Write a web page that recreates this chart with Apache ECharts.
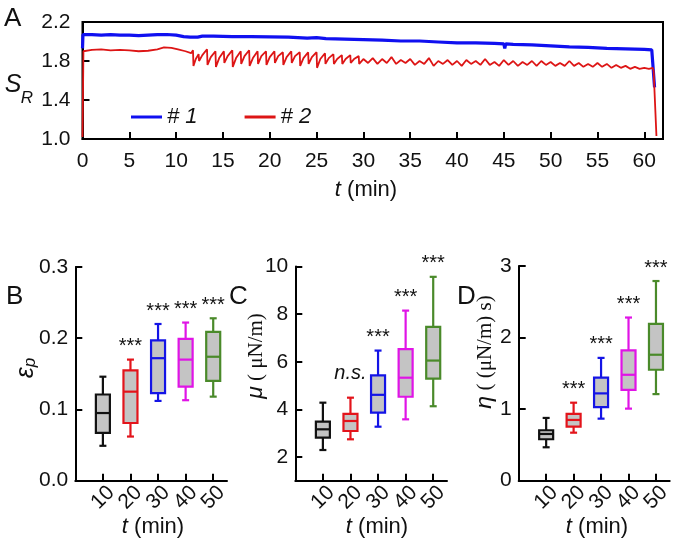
<!DOCTYPE html>
<html><head><meta charset="utf-8">
<script src="https://cdn.jsdelivr.net/npm/echarts@6/dist/echarts.min.js"></script>
<style>html,body{margin:0;padding:0;background:#fff}#c{width:677px;height:542px}</style>
</head><body><div id="c"></div>
<script>
// ---------- Panel A data (S_R vs t) ----------
const blueT = [0,0.05,1,2,3,4,5,6,7,8,9,10,10.8,11.5,12.3,12.8,14,16,18,20,22,24,25,26,28,30,32,34,36,38,40,42,44,45,45.1,45.2,46,48,50,52,54,56,58,60,60.8,61.0,61.1];
const blueV = [1.93,2.07,2.07,2.065,2.07,2.065,2.065,2.06,2.065,2.07,2.072,2.065,2.05,2.045,2.045,2.055,2.055,2.05,2.05,2.048,2.045,2.035,2.04,2.03,2.025,2.02,2.015,2.005,2.005,1.995,1.985,1.985,1.98,1.975,1.93,1.975,1.97,1.965,1.955,1.945,1.94,1.93,1.925,1.92,1.915,1.90,1.53];
const redT = [0,0.1,1,2,3,4,5,6,7,8,8.7,9.5,10.2,11,11.6,11.8,11.85,12.1,12.4,12.45,12.8,13.3,13.35,13.7,14.2,14.25,14.6,15.1,15.15,15.5,16.0,16.05,16.4,16.9,16.95,17.3,17.8,17.85,18.2,18.7,18.75,19.1,19.6,19.65,20.0,20.5,20.55,20.9,21.4,21.45,21.8,22.3,22.35,22.7,23.2,23.25,23.6,24.1,24.15,24.5,25.0,25.05,25.4,25.9,25.95,26.3,26.8,26.85,27.2,27.7,27.75,28.1,28.6,28.65,29.0,29.5,29.55,30,30.5,31,31.5,32,32.5,33,33.5,34,34.5,35,35.5,36,36.5,37,37.5,38,38.5,39,39.5,40,40.5,41,41.5,42,42.5,43,43.5,44,44.5,45,45.5,46,46.5,47,47.5,48,48.5,49,49.5,50,50.5,51,51.5,52,52.5,53,53.5,54,54.5,55,55.5,56,56.5,57,57.5,58,58.5,59,59.5,60,60.5,60.9,61.0,61.3];
const redV = [1.02,1.90,1.915,1.92,1.91,1.915,1.91,1.90,1.905,1.92,1.94,1.935,1.92,1.90,1.88,1.91,1.75,1.82,1.87,1.80,1.86,1.92,1.76,1.84,1.90,1.74,1.83,1.90,1.78,1.85,1.91,1.74,1.83,1.90,1.77,1.85,1.91,1.75,1.83,1.90,1.77,1.85,1.90,1.76,1.84,1.90,1.78,1.85,1.89,1.76,1.84,1.90,1.78,1.85,1.89,1.75,1.83,1.89,1.77,1.84,1.89,1.73,1.82,1.88,1.77,1.83,1.87,1.77,1.82,1.86,1.77,1.82,1.86,1.78,1.82,1.85,1.77,1.82,1.78,1.83,1.77,1.82,1.78,1.84,1.77,1.81,1.78,1.82,1.76,1.80,1.77,1.83,1.75,1.80,1.77,1.81,1.76,1.80,1.75,1.81,1.77,1.80,1.76,1.82,1.76,1.79,1.75,1.81,1.76,1.80,1.75,1.79,1.76,1.80,1.75,1.80,1.76,1.79,1.75,1.78,1.75,1.80,1.75,1.78,1.74,1.77,1.74,1.78,1.74,1.77,1.73,1.76,1.73,1.75,1.72,1.74,1.72,1.73,1.72,1.73,1.70,1.03];
const xTicksA = [0,5,10,15,20,25,30,35,40,45,50,55,60];
const yTicksA = [1.0,1.4,1.8,2.2];

// ---------- Panels B, C, D (box plots: min, Q1, median, Q3, max) ----------
const groups = [10,20,30,40,50];
const epsBox = [[0.049,0.067,0.095,0.121,0.146],[0.062,0.081,0.125,0.155,0.170],[0.112,0.123,0.172,0.197,0.220],[0.113,0.132,0.170,0.199,0.222],[0.118,0.140,0.174,0.209,0.228]];
const muBox  = [[2.29,2.81,3.16,3.48,4.28],[2.74,3.09,3.51,3.81,4.49],[3.27,3.86,4.61,5.43,6.47],[3.58,4.53,5.33,6.53,8.15],[4.13,5.29,6.05,7.47,9.57]];
const etaBox = [[0.467,0.579,0.653,0.705,0.877],[0.671,0.755,0.849,0.933,1.09],[0.867,1.027,1.22,1.44,1.716],[1.007,1.27,1.48,1.82,2.28],[1.21,1.55,1.76,2.19,2.79]];
const epsSig = ['','***','***','***','***'];
const muSig  = ['','n.s.','***','***','***'];
const etaSig = ['','***','***','***','***'];
const yTicksB = [0,0.1,0.2,0.3];
const yTicksC = [2,4,6,8,10];
const yTicksD = [0,1,2,3];

// ---------- styles ----------
const FF = 'Liberation Sans, Arial, sans-serif';
const boxColors = ['#111111','#e3141b','#1414e6','#e014e6','#4a8a2a'];
const BLUE = '#1010f0', RED = '#dd1515';

function pairs(t, v){ return t.map((x,i)=>[x, v[i]]); }

function boxRender(sig){
  return function(params, api){
    const i = params.dataIndex;
    const x = api.value(0);
    const pMin = api.coord([x, api.value(1)]);
    const pQ1 = api.coord([x, api.value(2)]);
    const pMed = api.coord([x, api.value(3)]);
    const pQ3 = api.coord([x, api.value(4)]);
    const pMax = api.coord([x, api.value(5)]);
    const hw = 7, cw = 3.5, lw = 2.2, c = boxColors[i];
    const st = {stroke: c, lineWidth: lw};
    const ch = [
      {type:'line', shape:{x1:pMax[0],y1:pMax[1],x2:pQ3[0],y2:pQ3[1]}, style:st},
      {type:'line', shape:{x1:pQ1[0],y1:pQ1[1],x2:pMin[0],y2:pMin[1]}, style:st},
      {type:'line', shape:{x1:pMax[0]-cw,y1:pMax[1],x2:pMax[0]+cw,y2:pMax[1]}, style:st},
      {type:'line', shape:{x1:pMin[0]-cw,y1:pMin[1],x2:pMin[0]+cw,y2:pMin[1]}, style:st},
      {type:'rect', shape:{x:pQ3[0]-hw,y:pQ3[1],width:2*hw,height:pQ1[1]-pQ3[1]}, style:{fill:'#c4c4c4',stroke:c,lineWidth:lw}},
      {type:'line', shape:{x1:pMed[0]-hw,y1:pMed[1],x2:pMed[0]+hw,y2:pMed[1]}, style:st}
    ];
    const s = sig[i];
    if (s) {
      const ns = s === 'n.s.';
      ch.push({type:'text', x:pMax[0], y:pMax[1] - (ns ? 14 : 3),
        style:{text:s, fill:'#111', align:'center', verticalAlign:'bottom', textAlign:'center', textVerticalAlign:'bottom',
          font: ns ? 'italic 20px ' + FF : '20px ' + FF}});
    }
    return {type:'group', children: ch};
  };
}

const axLine = {show:true, onZero:false, lineStyle:{color:'#000', width:2}};
const tickIn = {show:true, inside:true, length:7, lineStyle:{color:'#000', width:2}};
const lab = {color:'#111', fontSize:21, fontFamily:FF, hideOverlap:false, showMinLabel:true, showMaxLabel:true};

// Two overlapping bottom axes per panel so that the closely packed rotated labels are not auto-hidden
function bottomX(gi, vals, withLine){
  return {type:'value', gridIndex:gi, position:'bottom', offset:0, min:0, max:55, splitLine:{show:false},
    axisLine: withLine ? axLine : {show:false},
    axisTick: withLine ? Object.assign({}, tickIn, {customValues:groups}) : {show:false},
    axisLabel:Object.assign({}, lab, {customValues:vals, rotate:45, margin:17, align:'center', verticalAlign:'middle'})};
}
function bottomY(gi, mn, mx, ticks, fmt){
  return {type:'value', gridIndex:gi, min:mn, max:mx, splitLine:{show:false}, axisLine:axLine,
    axisTick:Object.assign({}, tickIn, {customValues:ticks}),
    axisLabel:Object.assign({}, lab, {customValues:ticks, margin:7, formatter:fmt})};
}

function titleT(x, y){
  return {type:'text', x:x, y:y, style:{text:'{i|t} (min)', font:'22px ' + FF, fill:'#111', align:'center', verticalAlign:'middle', textAlign:'center', textVerticalAlign:'middle',
      rich:{i:{fontStyle:'italic', fontSize:22, fontFamily:FF}}}};
}

const oddLabels = groups.filter((g,i)=>i%2===0);
const evenLabels = groups.filter((g,i)=>i%2===1);

const chart = echarts.init(document.getElementById('c'), null, {renderer:'canvas'});
chart.setOption({
  animation:false,
  backgroundColor:'#fff',
  grid:[
    {left:82.5, top:22, width:580.5, height:117, show:true, borderColor:'#000', borderWidth:2, backgroundColor:'transparent'},
    {left:75.3, top:267, width:151.7, height:213.7},
    {left:295.3, top:266.6, width:151.7, height:214.1},
    {left:518.7, top:266, width:151, height:214.7}
  ],
  legend:{data:['# 1','# 2'], left:126, top:101, icon:'rect', itemWidth:31, itemHeight:3, itemGap:47,
    textStyle:{fontSize:22, fontStyle:'italic', fontFamily:FF, color:'#111'}},
  xAxis:[
    {type:'value', gridIndex:0, min:0, max:62, splitLine:{show:false}, axisLine:axLine,
      axisTick:Object.assign({}, tickIn, {customValues:xTicksA}),
      axisLabel:Object.assign({}, lab, {customValues:xTicksA, margin:12})},
    bottomX(1, oddLabels, true), bottomX(2, oddLabels, true), bottomX(3, oddLabels, true),
    bottomX(1, evenLabels, false), bottomX(2, evenLabels, false), bottomX(3, evenLabels, false)
  ],
  yAxis:[
    {type:'value', gridIndex:0, min:1.0, max:2.2, splitLine:{show:false}, axisLine:axLine,
      axisTick:Object.assign({}, tickIn, {customValues:yTicksA}),
      axisLabel:Object.assign({}, lab, {customValues:yTicksA, margin:12, formatter:v=>v.toFixed(1)})},
    bottomY(1, 0, 0.3, yTicksB, v=>v.toFixed(1)),
    bottomY(2, 1, 10, yTicksC, v=>String(Math.round(v))),
    bottomY(3, 0, 3, yTicksD, v=>String(Math.round(v)))
  ],
  series:[
    {name:'# 1', type:'line', xAxisIndex:0, yAxisIndex:0, data:pairs(blueT, blueV), showSymbol:false, symbol:'none',
      lineStyle:{color:BLUE, width:3.2}, itemStyle:{color:BLUE}},
    {name:'# 2', type:'line', xAxisIndex:0, yAxisIndex:0, data:pairs(redT, redV), showSymbol:false, symbol:'none',
      lineStyle:{color:RED, width:1.8}, itemStyle:{color:RED}},
    {type:'custom', xAxisIndex:1, yAxisIndex:1, renderItem:boxRender(epsSig), data:groups.map((g,i)=>[g].concat(epsBox[i])), encode:{x:0, y:[1,2,3,4,5]}, clip:false},
    {type:'custom', xAxisIndex:2, yAxisIndex:2, renderItem:boxRender(muSig), data:groups.map((g,i)=>[g].concat(muBox[i])), encode:{x:0, y:[1,2,3,4,5]}, clip:false},
    {type:'custom', xAxisIndex:3, yAxisIndex:3, renderItem:boxRender(etaSig), data:groups.map((g,i)=>[g].concat(etaBox[i])), encode:{x:0, y:[1,2,3,4,5]}, clip:false}
  ],
  graphic:[
    {type:'text', left:4, top:6, style:{text:'A', font:'26px ' + FF, fill:'#111'}},
    {type:'text', left:6, top:284, style:{text:'B', font:'26px ' + FF, fill:'#111'}},
    {type:'text', left:229, top:284, style:{text:'C', font:'26px ' + FF, fill:'#111'}},
    {type:'text', left:457, top:284, style:{text:'D', font:'26px ' + FF, fill:'#111'}},
    {type:'text', x:13, y:85, style:{text:'S', font:'italic 25px ' + FF, fill:'#111', align:'center', verticalAlign:'middle', textAlign:'center', textVerticalAlign:'middle'}},
    {type:'text', x:27, y:98, style:{text:'R', font:'italic 17px ' + FF, fill:'#111', align:'center', verticalAlign:'middle', textAlign:'center', textVerticalAlign:'middle'}},
    titleT(366, 190), titleT(153, 527), titleT(377, 527), titleT(597, 527),
    {type:'text', x:26, y:368, rotation:Math.PI/2, style:{text:'{e|ε}{s|p}', font:'22px ' + FF, fill:'#111', align:'center', verticalAlign:'middle', textAlign:'center', textVerticalAlign:'middle',
      rich:{e:{fontStyle:'italic', fontSize:25, fontFamily:FF, verticalAlign:'top'}, s:{fontStyle:'italic', fontSize:17, fontFamily:FF, verticalAlign:'bottom', padding:[8,0,0,0]}}}},
    {type:'text', x:256, y:356, rotation:Math.PI/2, style:{text:'{i|μ} ( μN/m)', font:'21px Liberation Serif, serif', fill:'#111', align:'center', verticalAlign:'middle', textAlign:'center', textVerticalAlign:'middle',
      rich:{i:{fontStyle:'italic', fontSize:23, fontFamily:FF}}}},
    {type:'text', x:485, y:352, rotation:Math.PI/2, style:{text:'{i|η} ( (μN/m) s)', font:'21px Liberation Serif, serif', fill:'#111', align:'center', verticalAlign:'middle', textAlign:'center', textVerticalAlign:'middle',
      rich:{i:{fontStyle:'italic', fontSize:23, fontFamily:FF}}}}
  ]
});
</script></body></html>
